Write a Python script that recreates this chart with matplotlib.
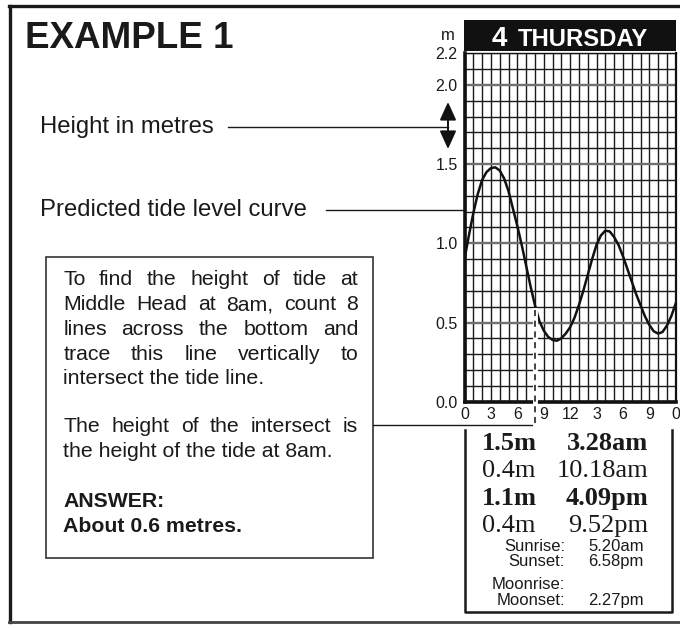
import numpy as np
import matplotlib
matplotlib.use('Agg')
import matplotlib.pyplot as plt
from matplotlib.patches import Rectangle

plt.rcParams['font.family'] = ['Liberation Sans', 'DejaVu Sans']

# tide level, every half hour
hours = [0, 0.5, 1, 1.5, 2, 2.5, 3, 3.5, 4, 4.5, 5, 5.5, 6, 6.5, 7, 7.5, 8, 8.5,
         9, 9.5, 10, 10.5, 11, 11.5, 12, 12.5, 13, 13.5, 14, 14.5, 15, 15.5, 16,
         16.5, 17, 17.5, 18, 18.5, 19, 19.5, 20, 20.5, 21, 21.5, 22, 22.5, 23,
         23.5, 24]
heights = [0.90, 1.05, 1.19, 1.31, 1.40, 1.45, 1.475, 1.48, 1.46, 1.41, 1.33,
           1.22, 1.11, 0.99, 0.86, 0.73, 0.61, 0.51, 0.45, 0.41, 0.39, 0.385,
           0.40, 0.43, 0.47, 0.53, 0.61, 0.70, 0.80, 0.90, 0.99, 1.05, 1.08,
           1.075, 1.04, 0.99, 0.92, 0.84, 0.76, 0.68, 0.61, 0.54, 0.485, 0.445,
           0.43, 0.44, 0.48, 0.54, 0.62]

xtick_pos = [0, 3, 6, 9, 12, 15, 18, 21, 24]
xtick_lab = ['0', '3', '6', '9', '12', '3', '6', '9', '0']
ytick_pos = [0.0, 0.5, 1.0, 1.5, 2.0, 2.2]
ytick_lab = ['0.0', '0.5', '1.0', '1.5', '2.0', '2.2']

tbl_height = ['1.5m', '0.4m', '1.1m', '0.4m']
tbl_time = ['3.28am', '10.18am', '4.09pm', '9.52pm']
tbl_bold = [True, False, True, False]
sun_lab = ['Sunrise:', 'Sunset:', 'Moonrise:', 'Moonset:']
sun_val = ['5.20am', '6.58pm', '', '2.27pm']

ask_hour = 8

W, H = 680, 628
fig = plt.figure(figsize=(W / 100, H / 100), dpi=100)
fig.patch.set_facecolor('white')

# overlay in pixel coordinates for the annotations
ov = fig.add_axes([0, 0, 1, 1])
ov.set_xlim(0, W)
ov.set_ylim(H, 0)
ov.axis('off')
ov.set_zorder(0)

# tide chart
x0, x1, ytop, ybot = 464.5, 675.7, 53.3, 401.7
ax = fig.add_axes([x0 / W, (H - ybot) / H, (x1 - x0) / W, (ybot - ytop) / H])
ax.set_zorder(1)
ax.set_xlim(0, 24)
ax.set_ylim(0, 2.2)
ax.set_xticks(xtick_pos)
ax.set_xticklabels(xtick_lab)
ax.set_xticks(range(0, 25), minor=True)
ax.set_yticks(ytick_pos)
ax.set_yticklabels(ytick_lab)
ax.set_yticks(np.round(np.arange(0, 2.21, 0.1), 2), minor=True)
ax.tick_params(which='both', length=0, labelsize=11.5, colors='#1a1a1a')
ax.tick_params(axis='x', pad=4)
ax.tick_params(axis='y', pad=5)
ax.grid(which='minor', color='#1a1a1a', lw=1.0)
ax.grid(which='major', axis='x', color='#1a1a1a', lw=1.0)
ax.grid(which='major', axis='y', color='#707070', lw=1.7)
ax.set_axisbelow(True)
for s, lw in [('left', 2.6), ('bottom', 2.6), ('right', 1.6), ('top', 1.0)]:
    ax.spines[s].set_linewidth(lw)
    ax.spines[s].set_color('#111111')

ax.plot(hours, heights, color='#111111', lw=1.8, zorder=3)

h_ask = heights[hours.index(ask_hour)]
y_low = -(425 - ybot) / (ybot - ytop) * 2.2
ax.plot([ask_hour, ask_hour], [h_ask - 0.03, y_low], color='white', lw=3.5,
        clip_on=False, zorder=4)
ax.plot([ask_hour, ask_hour], [h_ask - 0.03, y_low], color='#111111', lw=1.1,
        ls=(0, (4, 3)), clip_on=False, zorder=5)

# header
ov.add_patch(Rectangle((464, 20), 211.5, 30.5, color='#111111', lw=0))
ov.text(492, 45.5, '4', color='white', fontsize=20, fontweight='bold', va='baseline')
ov.text(518, 45.5, 'THURSDAY', color='white', fontsize=17.2, fontweight='bold', va='baseline')
ov.text(448, 35, 'm', fontsize=12, ha='center', va='center', color='#1a1a1a')

# outer frame
ov.plot([10, 10], [6, 622], color='#1a1a1a', lw=2.4)
ov.plot([8.8, 680], [6, 6], color='#1a1a1a', lw=2.4)
ov.plot([8.8, 680], [621.5, 621.5], color='#444444', lw=2.0)

ov.text(25, 48.3, 'EXAMPLE 1', fontsize=26.5, fontweight='bold', va='baseline', color='#1a1a1a')

# labels with leader lines
ov.text(40, 133.3, 'Height in metres', fontsize=17.2, va='baseline', color='#1a1a1a')
ov.plot([228, 448], [127, 127], color='#1a1a1a', lw=1.0)
ov.annotate('', xy=(448, 102), xytext=(448, 149),
            arrowprops=dict(arrowstyle='<|-|>,head_length=0.55,head_width=0.25',
                            color='#111111', lw=1.4, mutation_scale=20,
                            shrinkA=0, shrinkB=0))
ov.text(40, 216, 'Predicted tide level curve', fontsize=17.2, va='baseline', color='#1a1a1a')
ov.plot([326, 472], [210, 210], color='#1a1a1a', lw=1.0)

# explanation box
ov.add_patch(Rectangle((45.7, 256.7), 327.6, 301.6, fill=False, ec='#333333', lw=1.2))
ov.plot([373.3, 535], [425, 425], color='#1a1a1a', lw=1.0)

renderer = fig.canvas.get_renderer()


def put_line(text, xl, xr, yb, fs, weight='normal', justify=False):
    words = text.split(' ')
    if not justify:
        ov.text(xl, yb, text, fontsize=fs, fontweight=weight, va='baseline', color='#1a1a1a')
        return
    arts = [ov.text(0, yb, w, fontsize=fs, fontweight=weight, va='baseline',
                    color='#1a1a1a') for w in words]
    widths = [a.get_window_extent(renderer).width for a in arts]
    gap = (xr - xl - sum(widths)) / (len(words) - 1)
    x = xl
    for a, w in zip(arts, widths):
        a.set_x(x)
        x += w + gap


box_lines = [
    ('To find the height of tide at', 285.2, 'normal', True),
    ('Middle Head at 8am, count 8', 310.2, 'normal', True),
    ('lines across the bottom and', 334.8, 'normal', True),
    ('trace this line vertically to', 359.8, 'normal', True),
    ('intersect the tide line.', 384.2, 'normal', False),
    ('The height of the intersect is', 432.5, 'normal', True),
    ('the height of the tide at 8am.', 456.8, 'normal', False),
    ('ANSWER:', 506.8, 'bold', False),
    ('About 0.6 metres.', 532.5, 'bold', False),
]
for txt, yb, wt, just in box_lines:
    put_line(txt, 63.3, 358.3, yb, 15.3, wt, just)

# tide table under the chart
ov.plot([465, 465, 672, 672], [430, 612, 612, 430], color='#1a1a1a', lw=1.8)
row_base = [450, 477.3, 505, 531.7]
for hgt, tm, b, yb in zip(tbl_height, tbl_time, tbl_bold, row_base):
    wt = 'bold' if b else 'normal'
    ov.text(481.7, yb, hgt, fontsize=19, fontweight=wt, va='baseline',
            family='Liberation Serif', color='#1a1a1a')
    ov.text(648.3, yb, tm, fontsize=19, fontweight=wt, va='baseline', ha='right',
            family='Liberation Serif', color='#1a1a1a')
sun_base = [550.7, 565.7, 589.3, 605]
for lab, val, yb in zip(sun_lab, sun_val, sun_base):
    ov.text(565, yb, lab, fontsize=12, va='baseline', ha='right', color='#1a1a1a')
    ov.text(588.3, yb, val, fontsize=12, va='baseline', ha='left', color='#1a1a1a')

fig.savefig('out.png', dpi=100, facecolor='white')
